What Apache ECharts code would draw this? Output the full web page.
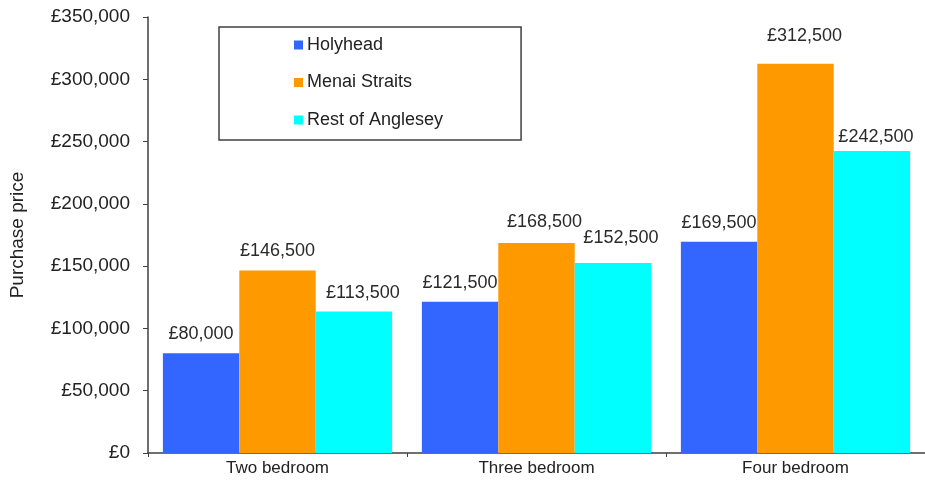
<!DOCTYPE html>
<html><head><meta charset="utf-8">
<script src="https://cdn.jsdelivr.net/npm/echarts@6/dist/echarts.min.js"></script>
<style>html,body{margin:0;padding:0;background:#fff}#c{width:925px;height:480px}</style>
</head><body><div id="c"></div>
<script>
var categories = ['Two bedroom', 'Three bedroom', 'Four bedroom'];
var holyhead = [80000, 121500, 169500];
var menai = [146500, 168500, 312500];
var rest = [113500, 152500, 242500];
var seriesNames = ['Holyhead', 'Menai Straits', 'Rest of Anglesey'];
var colors = ['#3366FF', '#FF9900', '#00FFFF'];

// label nudges (px) matching the hand-placed labels of the original
var labelNudges = [
  [[0,0],[0,0],[0,0]],
  [[0,0],[8,-2],[9,-9]],
  [[9,0],[8,-6],[4,5]]
];

function gbp(v){ return '£' + v.toString().replace(/\B(?=(\d{3})+(?!\d))/g, ','); }

var font = 'Liberation Sans, Arial, sans-serif';
var chart = echarts.init(document.getElementById('c'), null, {renderer:'canvas'});
function mk(idx, data){
  return {
    name: seriesNames[idx], type: 'bar', barGap: '0%', barCategoryGap: '11.5%',
    data: data.map(function(v, i){ return {value: v, label: {offset: labelNudges[idx][i]}}; }),
    itemStyle: {color: colors[idx]},
    label: {show: true, position: 'top', distance: 10, color: '#2a2a2a', fontFamily: font, fontSize: 18,
      formatter: function(p){ return gbp(p.value); }}
  };
}
chart.setOption({
  animation: false,
  textStyle: {fontFamily: font},
  grid: {left: 148, right: -4, top: 17, bottom: 27, containLabel: false},
  legend: {
    orient: 'vertical', left: 219, top: 27,
    data: seriesNames,
    itemWidth: 9, itemHeight: 9, itemGap: 19.5,
    padding: [9, 78, 11, 75],
    borderColor: '#404040', borderWidth: 1.5,
    icon: 'rect',
    textStyle: {fontSize: 18, lineHeight: 18, color: '#222', fontFamily: font, padding: [0,0,0,-1]}
  },
  xAxis: {
    type: 'category', data: categories,
    axisLine: {lineStyle: {color: '#404040', width: 1.5}},
    axisTick: {show: true, length: 4, lineStyle: {color: '#404040'}},
    axisLabel: {color: '#222', fontSize: 17, fontFamily: font, margin: 7}
  },
  yAxis: {
    type: 'value', min: 0, max: 350000, interval: 50000,
    name: 'Purchase price', nameLocation: 'middle', nameGap: 121, nameRotate: 90,
    nameTextStyle: {color: '#222', fontSize: 19, fontFamily: font},
    axisLine: {show: true, lineStyle: {color: '#404040', width: 1.5}},
    axisTick: {show: true, length: 5, lineStyle: {color: '#404040'}},
    splitLine: {show: false},
    axisLabel: {color: '#222', fontSize: 19, fontFamily: font, margin: 18, formatter: gbp}
  },
  series: [mk(0, holyhead), mk(1, menai), mk(2, rest)]
});
</script></body></html>
